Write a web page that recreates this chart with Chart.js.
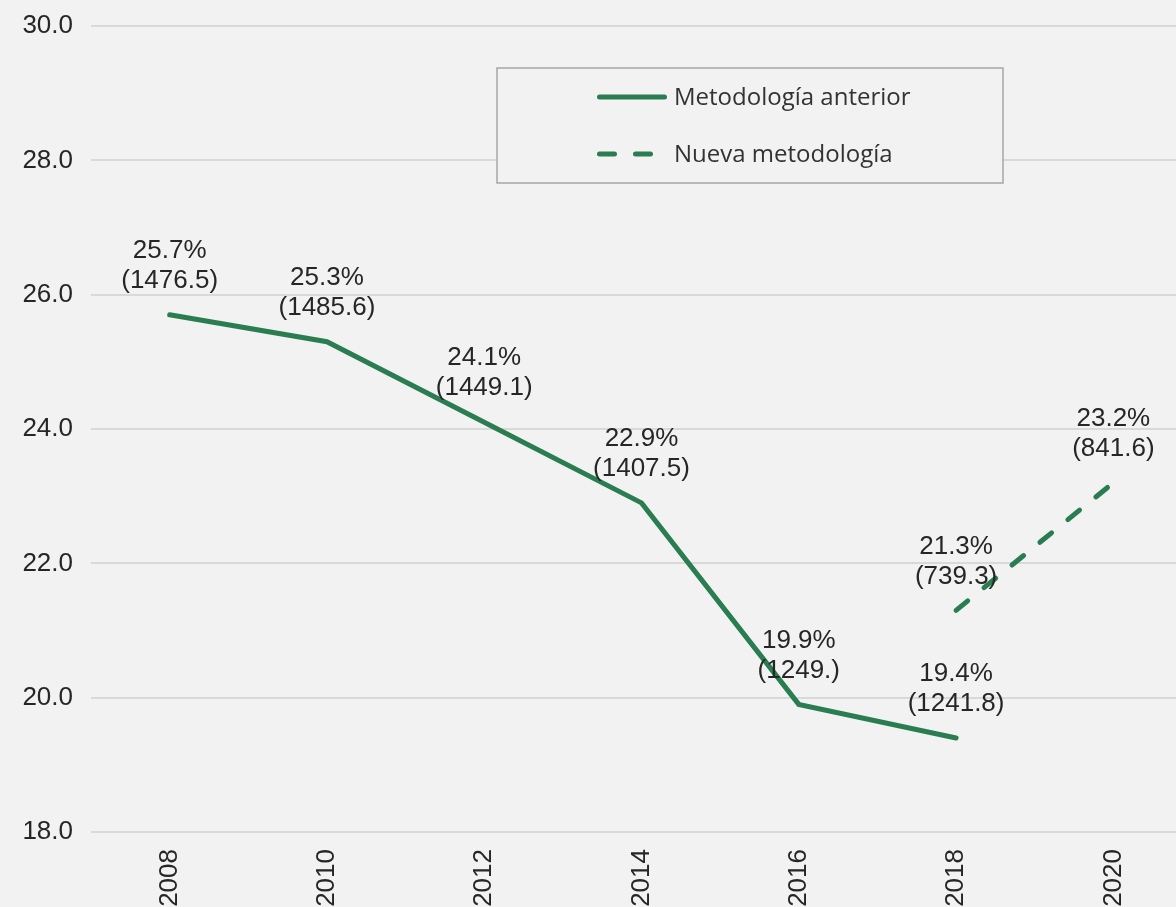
<!DOCTYPE html>
<html>
<head>
<meta charset="utf-8">
<script src="https://cdn.jsdelivr.net/npm/chart.js@4.4.1/dist/chart.umd.min.js"></script>
<style>
  html, body { margin: 0; padding: 0; background: #f2f2f2; overflow: hidden; }
  #chart { display: block; }
</style>
</head>
<body>
<canvas id="chart" width="1192" height="930"></canvas>
<script>
const years = ['2008', '2010', '2012', '2014', '2016', '2018', '2020'];
const oldMethod = [25.7, 25.3, 24.1, 22.9, 19.9, 19.4, null];
const oldCounts = ['1476.5', '1485.6', '1449.1', '1407.5', '1249.', '1241.8', null];
const newMethod = [null, null, null, null, null, 21.3, 23.2];
const newCounts = [null, null, null, null, null, '739.3', '841.6'];
const seriesNames = ['Metodología anterior', 'Nueva metodología'];
const yTicks = [18, 20, 22, 24, 26, 28, 30];

const green = '#2a7d50';
const textColor = '#262626';

// two-line labels above each point: "25.7%" / "(1476.5)"
const pointLabels = {
    id: 'pointLabels',
    afterDatasetsDraw(chart) {
        const ctx = chart.ctx;
        const counts = [oldCounts, newCounts];
        ctx.save();
        ctx.font = '26px "Liberation Sans", Arial, sans-serif';
        ctx.fillStyle = textColor;
        ctx.textAlign = 'center';
        ctx.textBaseline = 'middle';
        chart.data.datasets.forEach((ds, i) => {
            chart.getDatasetMeta(i).data.forEach((pt, j) => {
                const v = ds.data[j];
                if (v === null) return;
                ctx.fillText(v.toFixed(1) + '%', pt.x, pt.y - 64);
                ctx.fillText('(' + counts[i][j] + ')', pt.x, pt.y - 34);
            });
        });
        ctx.restore();
    }
};

// boxed legend drawn inside the plot
const boxLegend = {
    id: 'boxLegend',
    afterDraw(chart) {
        const ctx = chart.ctx;
        ctx.save();
        ctx.fillStyle = '#f2f2f2';
        ctx.fillRect(497, 68, 506, 115);
        ctx.strokeStyle = '#a6a6a6';
        ctx.lineWidth = 1.5;
        ctx.strokeRect(497, 68, 506, 115);
        chart.data.datasets.forEach((ds, i) => {
            const y = 97 + i * 57;
            ctx.strokeStyle = ds.borderColor;
            ctx.lineWidth = ds.borderWidth;
            ctx.lineCap = 'round';
            ctx.setLineDash(ds.borderDash || []);
            ctx.beginPath();
            ctx.moveTo(599.5, y);
            ctx.lineTo(i === 0 ? 664.5 : 651.5, y);
            ctx.stroke();
            ctx.setLineDash([]);
            ctx.fillStyle = '#333333';
            ctx.font = '24px "Open Sans", sans-serif';
            ctx.textAlign = 'left';
            ctx.textBaseline = 'middle';
            ctx.fillText(ds.label, 674, y + 1);
        });
        ctx.restore();
    }
};

new Chart(document.getElementById('chart'), {
    type: 'line',
    data: {
        labels: years,
        datasets: [{
            label: seriesNames[0],
            data: oldMethod,
            borderColor: green,
            borderWidth: 5,
            borderCapStyle: 'round',
            pointRadius: 0,
            tension: 0,
            fill: false,
        }, {
            label: seriesNames[1],
            data: newMethod,
            borderColor: green,
            borderWidth: 5,
            borderDash: [15, 21],
            borderCapStyle: 'round',
            pointRadius: 0,
            tension: 0,
            fill: false,
        }]
    },
    options: {
        responsive: false,
        animation: false,
        layout: { padding: { top: 26, left: 0, right: 0, bottom: 0 } },
        plugins: {
            legend: { display: false },
            tooltip: { enabled: false },
        },
        scales: {
            x: {
                offset: true,
                grid: { display: false },
                border: { display: false },
                ticks: {
                    color: textColor,
                    font: { family: '"Liberation Sans", Arial, sans-serif', size: 26 },
                    minRotation: 90,
                    maxRotation: 90,
                    padding: 9,
                },
                afterFit(s) { s.height = 98; }
            },
            y: {
                min: 18,
                max: 30,
                afterBuildTicks(s) { s.ticks = yTicks.map(v => ({ value: v })); },
                grid: { color: '#d9d9d9', lineWidth: 2, drawTicks: false },
                border: { display: false },
                ticks: {
                    color: textColor,
                    font: { family: '"Liberation Sans", Arial, sans-serif', size: 26 },
                    padding: 18,
                    callback: v => v.toFixed(1),
                },
                afterFit(s) {
                    s.width = 91;
                    s.paddingTop = 0;
                    s.paddingBottom = 0;
                }
            }
        }
    },
    plugins: [pointLabels, boxLegend]
});
</script>
</body>
</html>
